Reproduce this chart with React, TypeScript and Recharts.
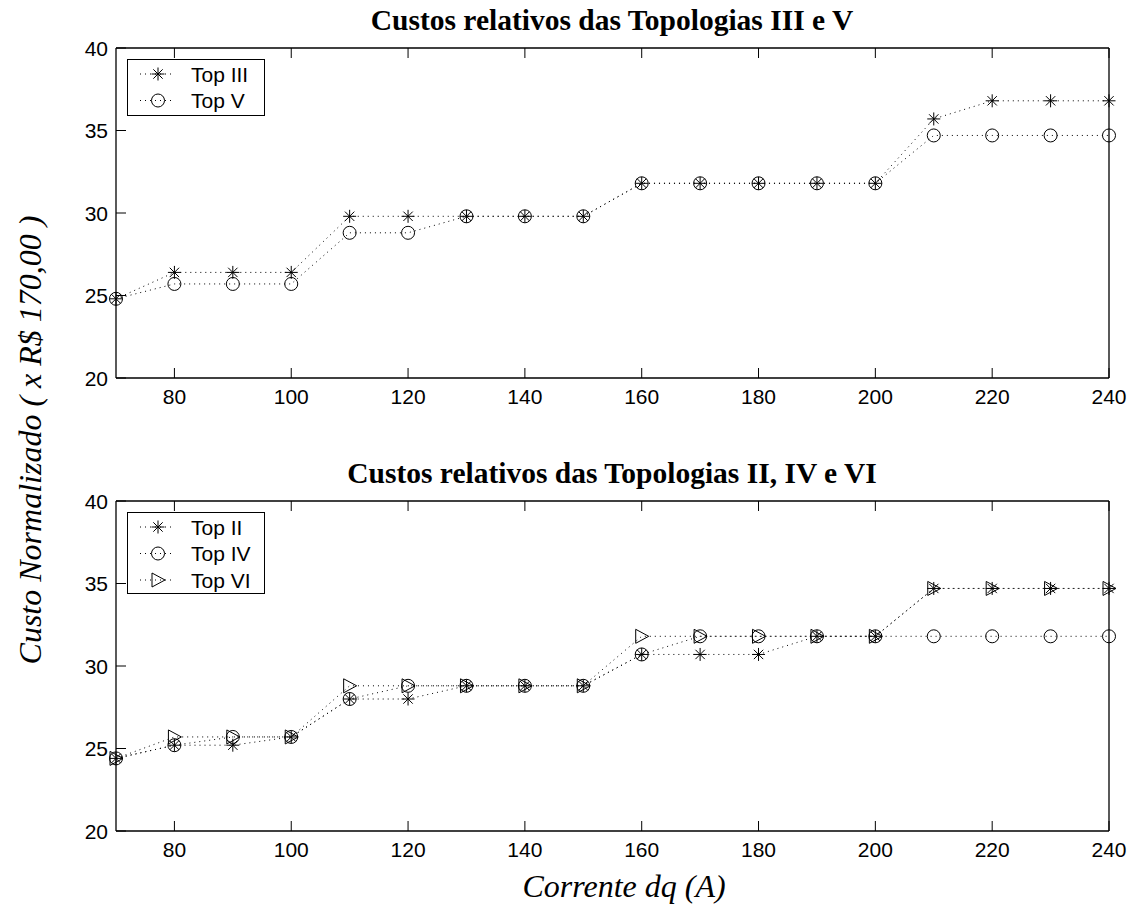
import React from 'react';
import { LineChart, Line, XAxis, YAxis, Legend } from 'recharts';

// corrente dq (A)
const CURRENT = [70, 80, 90, 100, 110, 120, 130, 140, 150, 160, 170, 180, 190, 200, 210, 220, 230, 240];

// custo normalizado, topologias III e V
const TOP_III = [24.8, 26.4, 26.4, 26.4, 29.8, 29.8, 29.8, 29.8, 29.8, 31.8, 31.8, 31.8, 31.8, 31.8, 35.7, 36.8, 36.8, 36.8];
const TOP_V = [24.8, 25.7, 25.7, 25.7, 28.8, 28.8, 29.8, 29.8, 29.8, 31.8, 31.8, 31.8, 31.8, 31.8, 34.7, 34.7, 34.7, 34.7];

// custo normalizado, topologias II, IV e VI
const TOP_II = [24.4, 25.2, 25.2, 25.7, 28.0, 28.0, 28.8, 28.8, 28.8, 30.7, 30.7, 30.7, 31.8, 31.8, 34.7, 34.7, 34.7, 34.7];
const TOP_IV = [24.4, 25.2, 25.7, 25.7, 28.0, 28.8, 28.8, 28.8, 28.8, 30.7, 31.8, 31.8, 31.8, 31.8, 31.8, 31.8, 31.8, 31.8];
const TOP_VI = [24.4, 25.7, 25.7, 25.7, 28.8, 28.8, 28.8, 28.8, 28.8, 31.8, 31.8, 31.8, 31.8, 31.8, 34.7, 34.7, 34.7, 34.7];

const X_TICKS = [80, 100, 120, 140, 160, 180, 200, 220, 240];
const Y_TICKS = [20, 25, 30, 35, 40];

const SANS = '"Liberation Sans", Arial, Helvetica, sans-serif';
const SERIF = '"Liberation Serif", "Times New Roman", serif';
const TICK_LEN = 10;

type Shape = 'star' | 'circle' | 'triangle';
type Series = { key: string; name: string; shape: Shape; values: number[] };

const upperSeries: Series[] = [
  { key: 't3', name: 'Top III', shape: 'star', values: TOP_III },
  { key: 't5', name: 'Top V', shape: 'circle', values: TOP_V },
];
const lowerSeries: Series[] = [
  { key: 't2', name: 'Top II', shape: 'star', values: TOP_II },
  { key: 't4', name: 'Top IV', shape: 'circle', values: TOP_IV },
  { key: 't6', name: 'Top VI', shape: 'triangle', values: TOP_VI },
];

function buildRows(series: Series[]) {
  return CURRENT.map((x, i) => {
    const row: Record<string, number> = { x };
    series.forEach((s) => {
      row[s.key] = s.values[i];
    });
    return row;
  });
}

function Marker({ shape, cx, cy }: { shape: Shape; cx: number; cy: number }) {
  const r = 6.5;
  if (shape === 'circle') {
    return <circle cx={cx} cy={cy} r={r} fill="none" stroke="#000" strokeWidth={1} />;
  }
  if (shape === 'triangle') {
    const pts = `${cx - 6},${cy - 7} ${cx - 6},${cy + 7} ${cx + 7},${cy}`;
    return <polygon points={pts} fill="none" stroke="#000" strokeWidth={1} />;
  }
  const d = r * 0.72;
  return (
    <g stroke="#000" strokeWidth={1}>
      <line x1={cx - r} y1={cy} x2={cx + r} y2={cy} />
      <line x1={cx} y1={cy - r} x2={cx} y2={cy + r} />
      <line x1={cx - d} y1={cy - d} x2={cx + d} y2={cy + d} />
      <line x1={cx - d} y1={cy + d} x2={cx + d} y2={cy - d} />
    </g>
  );
}

// MATLAB-style ticks: short marks pointing into the plot box
const BottomTick = (p: any) => (
  <g>
    <line x1={p.x} y1={p.y} x2={p.x} y2={p.y - TICK_LEN} stroke="#000" />
    <text x={p.x} y={p.y + 26} textAnchor="middle" fontSize={21} fontFamily={SANS} fill="#000">
      {p.payload.value}
    </text>
  </g>
);
const TopTick = (p: any) => <line x1={p.x} y1={p.y} x2={p.x} y2={p.y + TICK_LEN} stroke="#000" />;
const LeftTick = (p: any) => (
  <g>
    <line x1={p.x} y1={p.y} x2={p.x + TICK_LEN} y2={p.y} stroke="#000" />
    <text x={p.x - 8} y={p.y + 7.5} textAnchor="end" fontSize={21} fontFamily={SANS} fill="#000">
      {p.payload.value}
    </text>
  </g>
);
const RightTick = (p: any) => <line x1={p.x} y1={p.y} x2={p.x - TICK_LEN} y2={p.y} stroke="#000" />;

function LegendBox({ series, height }: { series: Series[]; height: number }) {
  return (
    <div style={{ width: 138, height, border: '1.3px solid #000', background: '#fff', boxSizing: 'border-box' }}>
      <svg width={136} height={height - 2} style={{ display: 'block' }}>
        {series.map((s, i) => {
          const y = 14 + i * 26.5;
          return (
            <g key={s.key}>
              <line x1={12} x2={46} y1={y} y2={y} stroke="#000" strokeDasharray="1 4" />
              <Marker shape={s.shape} cx={30} cy={y} />
              <text x={63} y={y + 7.5} fontSize={21} fontFamily={SANS} fill="#000">
                {s.name}
              </text>
            </g>
          );
        })}
      </svg>
    </div>
  );
}

function Panel({ series, top, legendHeight }: { series: Series[]; top: number; legendHeight: number }) {
  const rows = buildRows(series);
  const axisLine = { stroke: '#000', strokeWidth: 1.3 };
  // axes are 1px thick so they still render; margins make up the rest of the frame
  return (
    <div style={{ position: 'absolute', left: 0, top }}>
      <LineChart width={1134} height={440} data={rows} margin={{ top: 47, right: 24, bottom: 61, left: 115 }}>
        <XAxis
          xAxisId="b"
          type="number"
          dataKey="x"
          domain={[70, 240]}
          ticks={X_TICKS}
          interval={0}
          height={1}
          tickSize={0}
          tickMargin={0}
          tickLine={false}
          axisLine={axisLine}
          tick={BottomTick}
        />
        <XAxis
          xAxisId="t"
          orientation="top"
          type="number"
          dataKey="x"
          domain={[70, 240]}
          ticks={X_TICKS}
          interval={0}
          height={1}
          tickSize={0}
          tickMargin={0}
          tickLine={false}
          axisLine={axisLine}
          tick={TopTick}
        />
        <YAxis
          yAxisId="l"
          type="number"
          domain={[20, 40]}
          ticks={Y_TICKS}
          interval={0}
          width={1}
          tickSize={0}
          tickMargin={0}
          tickLine={false}
          axisLine={axisLine}
          tick={LeftTick}
        />
        <YAxis
          yAxisId="r"
          orientation="right"
          type="number"
          domain={[20, 40]}
          ticks={Y_TICKS}
          interval={0}
          width={1}
          tickSize={0}
          tickMargin={0}
          tickLine={false}
          axisLine={axisLine}
          tick={RightTick}
        />
        <Legend
          layout="vertical"
          align="center"
          verticalAlign="middle"
          wrapperStyle={{ left: 127, top: top === 0 ? 59 : 512 - top, width: 138 }}
          content={() => <LegendBox series={series} height={legendHeight} />}
        />
        {series.map((s) => (
          <Line
            key={s.key}
            xAxisId="b"
            yAxisId="l"
            dataKey={s.key}
            name={s.name}
            type="linear"
            stroke="#000"
            strokeWidth={1}
            strokeDasharray="1 4"
            isAnimationActive={false}
            dot={(p: any) => <Marker key={`${s.key}-${p.index}`} shape={s.shape} cx={p.cx} cy={p.cy} />}
            activeDot={false}
          />
        ))}
      </LineChart>
    </div>
  );
}

const titleStyle: React.CSSProperties = {
  position: 'absolute',
  left: 612,
  transform: 'translate(-50%, -50%)',
  fontFamily: SERIF,
  fontWeight: 'bold',
  fontSize: 29.5,
  whiteSpace: 'nowrap',
  color: '#000',
};

export default function App() {
  return (
    <div style={{ position: 'absolute', left: 0, top: 0, width: 1134, height: 914, background: '#fff' }}>
      <div style={{ ...titleStyle, top: 20 }}>Custos relativos das Topologias III e V</div>
      <div style={{ ...titleStyle, top: 473 }}>Custos relativos das Topologias II, IV e VI</div>
      <Panel series={upperSeries} top={0} legendHeight={57} />
      <Panel series={lowerSeries} top={453} legendHeight={82} />
      <div
        style={{
          position: 'absolute',
          left: 30,
          top: 440,
          transform: 'translate(-50%, -50%) rotate(-90deg)',
          fontFamily: SERIF,
          fontStyle: 'italic',
          fontSize: 32,
          whiteSpace: 'nowrap',
        }}
      >
        Custo Normalizado ( x R$ 170,00 )
      </div>
      <div
        style={{
          position: 'absolute',
          left: 624,
          top: 886,
          transform: 'translate(-50%, -50%)',
          fontFamily: SERIF,
          fontStyle: 'italic',
          fontSize: 32,
          whiteSpace: 'nowrap',
        }}
      >
        Corrente dq (A)
      </div>
    </div>
  );
}
